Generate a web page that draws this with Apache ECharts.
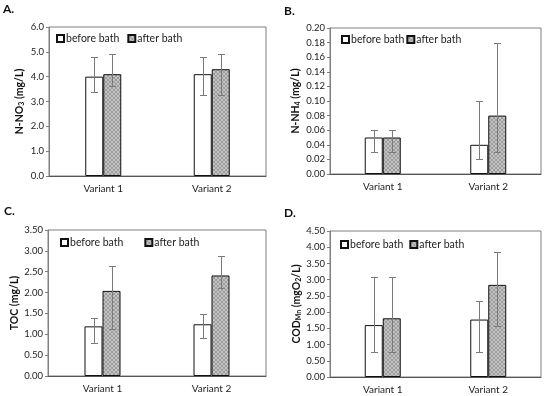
<!DOCTYPE html>
<html><head><meta charset="utf-8">
<script src="https://cdn.jsdelivr.net/npm/echarts@6/dist/echarts.min.js"></script>
<style>html,body{margin:0;padding:0;background:#fff}#c{width:550px;height:396px}</style>
</head><body><div id="c"></div>
<script>
const categories = ['Variant 1', 'Variant 2'];
const seriesNames = ['before bath', 'after bath'];

// Panel A: N-NO3
const aTicks = ['0.0','1.0','2.0','3.0','4.0','5.0','6.0'];
const aBefore = [4.0, 4.1];
const aAfter = [4.1, 4.3];
const aBeforeLow = [3.38, 3.28], aBeforeHigh = [4.78, 4.78];
const aAfterLow = [3.61, 3.28], aAfterHigh = [4.9, 4.9];

// Panel B: N-NH4
const bTicks = ['0.00','0.02','0.04','0.06','0.08','0.10','0.12','0.14','0.16','0.18','0.20'];
const bBefore = [0.05, 0.04];
const bAfter = [0.05, 0.08];
const bBeforeLow = [0.03, 0.02], bBeforeHigh = [0.06, 0.10];
const bAfterLow = [0.03, 0.03], bAfterHigh = [0.06, 0.18];

// Panel C: TOC
const cTicks = ['0.00','0.50','1.00','1.50','2.00','2.50','3.00','3.50'];
const cBefore = [1.19, 1.24];
const cAfter = [2.04, 2.41];
const cBeforeLow = [0.80, 0.92], cBeforeHigh = [1.40, 1.49];
const cAfterLow = [1.12, 2.12], cAfterHigh = [2.63, 2.88];

// Panel D: COD Mn
const dTicks = ['0.00','0.50','1.00','1.50','2.00','2.50','3.00','3.50','4.00','4.50'];
const dBefore = [1.60, 1.77];
const dAfter = [1.81, 2.84];
const dBeforeLow = [0.77, 0.77], dBeforeHigh = [3.08, 2.35];
const dAfterLow = [0.77, 1.58], dAfterHigh = [3.08, 3.86];

const FONT = 'Lato';
const BARW = 18;

// hatched pattern
const pc = document.createElement('canvas');
pc.width = 4; pc.height = 4;
const px = pc.getContext('2d');
px.fillStyle = '#c4c4c4'; px.fillRect(0,0,4,4);
px.fillStyle = '#9c9c9c';
for (let i = 0; i < 4; i++) { px.fillRect(i, i, 1, 1); px.fillRect(3 - i, i, 1, 1); }
const hatch = { image: pc, repeat: 'repeat' };

const panels = [
  { t: aTicks, b: aBefore, a: aAfter, bl: aBeforeLow, bh: aBeforeHigh, al: aAfterLow, ah: aAfterHigh,
    grid: { left: 49, top: 27, right: 284, bottom: 220 }, letter: 'A.', lp: { left: 3, top: 3 },
    name: 'N-NO{s|3} (mg/L)', gap: 24, legend: { left: 56, top: 33, itemGap: 8 } },
  { t: bTicks, b: bBefore, a: bAfter, bl: bBeforeLow, bh: bBeforeHigh, al: bAfterLow, ah: bAfterHigh,
    grid: { left: 330, top: 28, right: 9, bottom: 222 }, letter: 'B.', lp: { left: 284, top: 5 },
    name: 'N-NH{s|4} (mg/L)', gap: 29, legend: { left: 341, top: 34, itemGap: 2 } },
  { t: cTicks, b: cBefore, a: cAfter, bl: cBeforeLow, bh: cBeforeHigh, al: cAfterLow, ah: cAfterHigh,
    grid: { left: 48, top: 230, right: 284, bottom: 20 }, letter: 'C.', lp: { left: 4, top: 205 },
    name: 'TOC (mg/L)', gap: 23, legend: { left: 60, top: 237, itemGap: 21 } },
  { t: dTicks, b: dBefore, a: dAfter, bl: dBeforeLow, bh: dBeforeHigh, al: dAfterLow, ah: dAfterHigh,
    grid: { left: 330, top: 231, right: 9, bottom: 19 }, letter: 'D.', lp: { left: 284, top: 207 },
    name: 'COD{s|Mn} (mgO{s|2}/L)', gap: 27, legend: { left: 340, top: 239, itemGap: 6 } }
];

function errRender(params, api) {
  const x = api.value(0), lo = api.value(1), hi = api.value(2), side = api.value(3);
  const p1 = api.coord([x, lo]), p2 = api.coord([x, hi]);
  const cx = Math.round(p1[0] + side * BARW / 2) + 0.5;
  const y1 = Math.round(p1[1]) + 0.5, y2 = Math.round(p2[1]) + 0.5;
  const st = { stroke: '#7a7a7a', lineWidth: 1 };
  return { type: 'group', children: [
    { type: 'line', shape: { x1: cx, y1: y1, x2: cx, y2: y2 }, style: st },
    { type: 'line', shape: { x1: cx - 3.5, y1: y1, x2: cx + 3.5, y2: y1 }, style: st },
    { type: 'line', shape: { x1: cx - 3.5, y1: y2, x2: cx + 3.5, y2: y2 }, style: st }
  ]};
}

const option = { animation: false, backgroundColor: '#fff', title: [], grid: [], xAxis: [], yAxis: [], legend: [], series: [] };

panels.forEach((p, i) => {
  const dec = (p.t[0].split('.')[1] || '').length;
  const tmin = parseFloat(p.t[0]), tmax = parseFloat(p.t[p.t.length - 1]);
  const tint = parseFloat(p.t[1]) - tmin;
  option.title.push({ text: p.letter, left: p.lp.left, top: p.lp.top, padding: 0,
    textStyle: { fontFamily: FONT, fontSize: 12, fontWeight: 'bold', color: '#111' } });
  option.grid.push(Object.assign({ show: true, borderColor: '#7f7f7f', borderWidth: 1, containLabel: false }, p.grid));
  option.xAxis.push({ type: 'category', gridIndex: i, data: categories,
    axisLine: { lineStyle: { color: '#555', width: 1 } }, axisTick: { show: false },
    axisLabel: { fontFamily: FONT, fontSize: 10, color: '#222', margin: 8 } });
  option.yAxis.push({ type: 'value', gridIndex: i, min: tmin, max: tmax, interval: tint,
    name: p.name, nameLocation: 'middle', nameRotate: 90, nameGap: p.gap,
    nameTextStyle: { fontFamily: FONT, fontSize: 10.5, fontWeight: 'bold', color: '#111',
      rich: { s: { fontFamily: FONT, fontSize: 7, fontWeight: 'bold', color: '#111', padding: [4, 0, 0, 0] } } },
    axisLine: { show: true, lineStyle: { color: '#7f7f7f' } },
    axisTick: { show: true, length: 3, lineStyle: { color: '#7f7f7f' } },
    splitLine: { show: false },
    axisLabel: { fontFamily: FONT, fontSize: 9.5, color: '#222', margin: 5,
      formatter: v => v.toFixed(dec) } });
  option.legend.push({ data: seriesNames, left: p.legend.left, top: p.legend.top, itemGap: p.legend.itemGap,
    icon: 'rect', itemWidth: 7, itemHeight: 7, padding: 0, selectedMode: false,
    textStyle: { fontFamily: FONT, fontSize: 10.5, color: '#222', padding: [0, 0, 0, -3] } });
  option.series.push({ type: 'bar', name: seriesNames[0], xAxisIndex: i, yAxisIndex: i, data: p.b,
    barWidth: BARW, barGap: '0%', itemStyle: { color: '#fff', borderColor: '#111', borderWidth: 1 } });
  option.series.push({ type: 'bar', name: seriesNames[1], xAxisIndex: i, yAxisIndex: i, data: p.a,
    barWidth: BARW, barGap: '0%', itemStyle: { color: hatch, borderColor: '#111', borderWidth: 1 } });
  const errData = [];
  categories.forEach((c, k) => {
    errData.push([k, p.bl[k], p.bh[k], -1]);
    errData.push([k, p.al[k], p.ah[k], 1]);
  });
  option.series.push({ type: 'custom', xAxisIndex: i, yAxisIndex: i, renderItem: errRender,
    data: errData, encode: { x: 0, y: [1, 2] }, z: 5, silent: true });
});

const chart = echarts.init(document.getElementById('c'), null, { renderer: 'canvas' });
chart.setOption(option);
</script></body></html>
